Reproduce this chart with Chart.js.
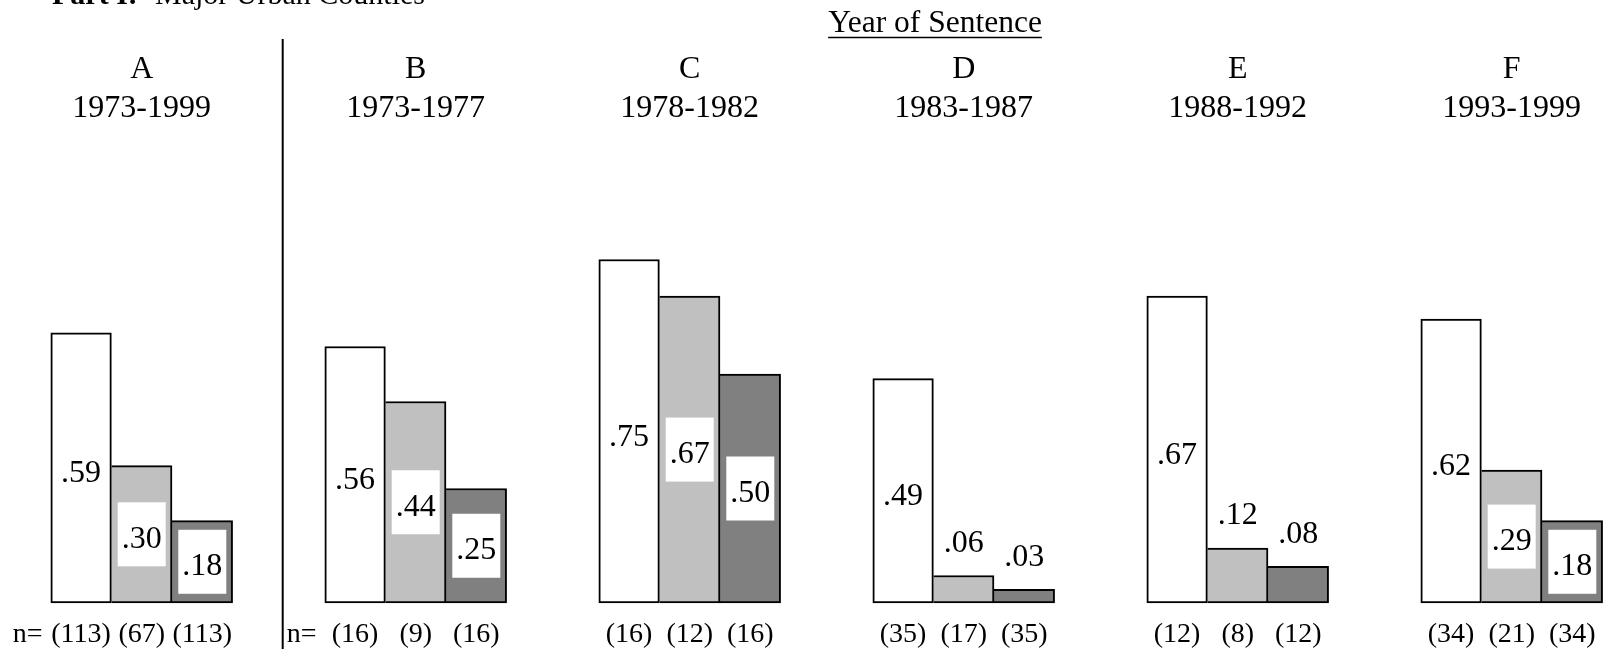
<!DOCTYPE html>
<html>
<head>
<meta charset="utf-8">
<script src="https://cdn.jsdelivr.net/npm/chart.js@4/dist/chart.umd.min.js"></script>
<style>
html, body { margin: 0; padding: 0; background: #fff; overflow: hidden; }
#wrap { width: 1606px; height: 649px; position: relative; }
</style>
</head>
<body>
<div id="wrap"><canvas id="chart"></canvas></div>
<script>
// groups and their year ranges
const groups = ['A', 'B', 'C', 'D', 'E', 'F'];
const years = ['1973-1999', '1973-1977', '1978-1982', '1983-1987', '1988-1992', '1993-1999'];

// proportions (three bars per group)
const whiteVals = [0.59, 0.56, 0.75, 0.49, 0.67, 0.62];
const lightVals = [0.30, 0.44, 0.67, 0.06, 0.12, 0.29];
const darkVals = [0.18, 0.25, 0.50, 0.03, 0.08, 0.18];

// sample sizes under each bar
const whiteN = [113, 16, 16, 35, 12, 34];
const lightN = [67, 9, 12, 17, 8, 21];
const darkN = [113, 16, 16, 35, 12, 34];

const serif = '"Liberation Serif", "Times New Roman", serif';

function fmt(v) {
    return v.toFixed(2).replace(/^0/, '');
}

// value labels, n= counts, divider and headings
const extras = {
    id: 'extras',
    afterDatasetsDraw(chart) {
        const ctx = chart.ctx;
        ctx.save();
        ctx.textAlign = 'center';
        ctx.textBaseline = 'middle';
        chart.data.datasets.forEach((ds, di) => {
            const meta = chart.getDatasetMeta(di);
            meta.data.forEach((bar, i) => {
                const v = ds.data[i];
                const mid = (bar.y + bar.base) / 2;
                ctx.font = '32px ' + serif;
                ctx.fillStyle = '#000';
                if (di === 0) {
                    ctx.fillText(fmt(v), bar.x, mid + 6);
                } else if (v >= 0.15) {
                    ctx.fillStyle = '#fff';
                    ctx.fillRect(bar.x - 24, mid - 32, 48, 64);
                    ctx.fillStyle = '#000';
                    ctx.fillText(fmt(v), bar.x, mid + 5);
                } else {
                    ctx.fillText(fmt(v), bar.x, bar.y - 32);
                }
                ctx.font = '28px ' + serif;
                ctx.fillText('(' + ds.counts[i] + ')', bar.x, bar.base + 32);
            });
        });

        // "n=" before the first two groups
        const first = chart.getDatasetMeta(0).data;
        ctx.textAlign = 'left';
        ctx.font = '28px ' + serif;
        [0, 1].forEach(i => {
            const left = first[i].x - first[i].width / 2;
            ctx.fillText('n=', left - 38, first[i].base + 32);
        });

        // divider between overall and the periods
        const xs = chart.scales.x;
        const dx = (xs.getPixelForValue(0) + xs.getPixelForValue(1)) / 2 + 4;
        ctx.strokeStyle = '#000';
        ctx.lineWidth = 2;
        ctx.beginPath();
        ctx.moveTo(dx, 39);
        ctx.lineTo(dx, chart.height);
        ctx.stroke();

        // headings
        ctx.textBaseline = 'alphabetic';
        ctx.font = 'bold 30px ' + serif;
        ctx.fillText('Part I:', 52, 4);
        ctx.font = '30px ' + serif;
        ctx.fillText('Major Urban Counties', 155, 4);

        ctx.textAlign = 'center';
        ctx.font = '31.5px ' + serif;
        const head = 'Year of Sentence';
        ctx.fillText(head, 935, 32);
        const w = ctx.measureText(head).width;
        ctx.lineWidth = 1.5;
        ctx.beginPath();
        ctx.moveTo(935 - w / 2, 37.5);
        ctx.lineTo(935 + w / 2, 37.5);
        ctx.stroke();
        ctx.restore();
    }
};

// bars shrink left to right in every group, so the taller left bar carries the shared edge
const border = 2;
new Chart(document.getElementById('chart').getContext('2d'), {
    type: 'bar',
    data: {
        labels: groups.map((g, i) => [g, years[i]]),
        datasets: [
            {
                data: whiteVals, counts: whiteN,
                backgroundColor: '#ffffff', borderColor: '#000',
                borderWidth: { top: border, bottom: border, left: border, right: border }
            },
            {
                data: lightVals, counts: lightN,
                backgroundColor: '#c0c0c0', borderColor: '#000',
                borderWidth: { top: border, bottom: border, left: 0, right: border }
            },
            {
                data: darkVals, counts: darkN,
                backgroundColor: '#808080', borderColor: '#000',
                borderWidth: { top: border, bottom: border, left: 0, right: border }
            }
        ]
    },
    options: {
        responsive: true,
        maintainAspectRatio: false,
        animation: false,
        barThickness: 60.6,
        borderSkipped: false,
        clip: false,
        layout: { padding: { left: 141.7, right: 94.3, top: 50, bottom: 46 } },
        plugins: { legend: { display: false }, tooltip: { enabled: false } },
        scales: {
            x: {
                position: 'top',
                offset: false,
                grid: { display: false, drawTicks: false },
                border: { display: false },
                ticks: {
                    color: '#000',
                    padding: 0,
                    maxRotation: 0,
                    autoSkip: false,
                    font: { family: serif, size: 32, lineHeight: 1.22 }
                }
            },
            y: {
                display: false,
                min: 0,
                max: 1.037
            }
        }
    },
    plugins: [extras]
});
</script>
</body>
</html>
